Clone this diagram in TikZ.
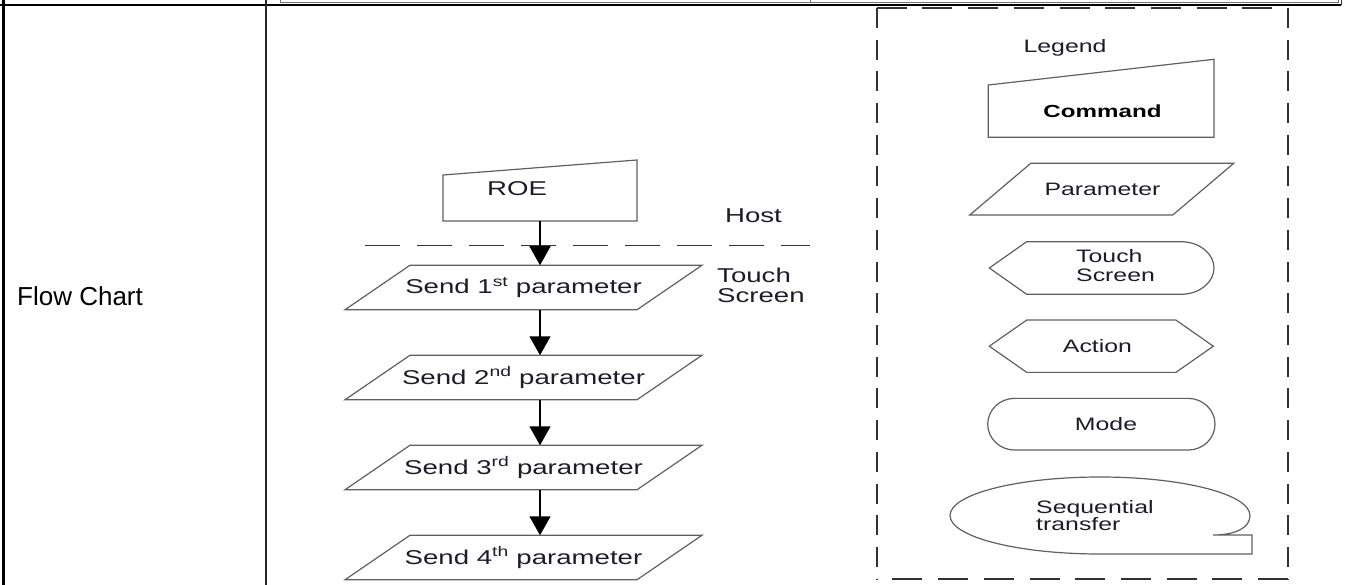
\documentclass[tikz,border=0pt]{standalone}
\usepackage{fontspec}
\setmainfont{Liberation Sans}
\newfontfamily\widefont[FakeStretch=1.38]{Liberation Sans}
\usetikzlibrary{arrows.meta,calc}
\definecolor{txtc}{RGB}{28,28,40}
\definecolor{shpc}{RGB}{95,95,95}
\definecolor{dashc}{RGB}{50,50,50}
\tikzset{
  shp/.style={draw=shpc, line width=1.2pt, line join=miter},
  txt/.style={font=\widefont\fontsize{20}{20}\selectfont, text=txtc, inner sep=0pt},
  ltxt/.style={font=\widefont\fontsize{18}{19}\selectfont, text=txtc, inner sep=0pt},
  holder/.style={inner sep=0pt, outer sep=0pt},
  arr/.style={line width=1.5pt, black, -{Triangle[width=21pt,length=19pt]}},
  hdash/.style={draw=dashc, line width=1.6pt, dash pattern=on 30pt off 15.7pt},
  vdash/.style={draw=dashc, line width=1.6pt, dash pattern=on 20pt off 11.7pt},
  sepdash/.style={draw=dashc, line width=1.4pt, dash pattern=on 35pt off 17pt},
}
\begin{document}
\begin{tikzpicture}[x=1pt,y=-1pt]
\useasboundingbox (0,0) rectangle (1351,585);
% table lines
\draw[line width=3.3pt] (3.3,0) -- (3.3,585);
\draw[line width=2pt] (0,4.8) -- (1341,4.8);
\draw[line width=1.8pt, black!85] (266.2,0) -- (266.2,585);
\draw[line width=0.8pt, black!55] (280,0) -- (280,2.7) -- (1338,2.7) -- (1338,0);
\draw[line width=0.8pt, black!55] (810,0) -- (810,2.7);
\draw[line width=0.8pt, black!80] (1341,0) -- (1341,5);
\node[anchor=base west, inner sep=0pt, font=\fontsize{26}{26}\selectfont] (fc) at (17,305) {Flow Chart};

% flow chart
\node[holder, minimum width=194pt, minimum height=61pt] (roe) at (540,190.5) {};
\draw[shp] (roe.south west) -- ([yshift=-15pt]roe.north west) -- (roe.north east) -- (roe.south east) -- cycle;
\node[txt] (roet) at (517,189) {ROE};

\node[txt, anchor=base] (host) at (753.5,223) {Host};
\node[txt, anchor=west, align=left, font=\widefont\fontsize{20}{20}\selectfont] (tsl) at (717,285.7) {Touch\\Screen};
\coordinate (hl) at (365,245.5);
\coordinate (hr) at (810,245.5);
\draw[sepdash] (hl) -- (hr);

\node[txt, holder, minimum width=292pt, minimum height=44.5pt] (p1) at (523.5,287.5) {Send 1\textsuperscript{st} parameter};
\node[txt, holder, minimum width=292pt, minimum height=44.5pt] (p2) at (523.5,377.5) {Send 2\textsuperscript{nd} parameter};
\node[txt, holder, minimum width=292pt, minimum height=44.5pt] (p3) at (523.5,467.5) {Send 3\textsuperscript{rd} parameter};
\node[txt, holder, minimum width=292pt, minimum height=44.5pt] (p4) at (523.5,557.5) {Send 4\textsuperscript{th} parameter};
\foreach \p in {p1,p2,p3,p4}{
  \draw[shp] ([xshift=32.5pt]\p.north west) -- ([xshift=32.5pt]\p.north east) -- ([xshift=-32.5pt]\p.south east) -- ([xshift=-32.5pt]\p.south west) -- cycle;
}
\draw[arr] (roe.south) -- (p1.north -| roe.south);
\draw[arr] (p1.south -| roe.south) -- (p2.north -| roe.south);
\draw[arr] (p2.south -| roe.south) -- (p3.north -| roe.south);
\draw[arr] (p3.south -| roe.south) -- (p4.north -| roe.south);

% legend box
\node[holder, minimum width=411.3pt, minimum height=571pt] (lb) at (1082.35,293.5) {};
\draw[hdash] (lb.north west) -- (lb.north east);
\draw[vdash] (lb.north west) -- (lb.south west);
\draw[vdash] (lb.north east) -- (lb.south east);
\draw[hdash] (lb.south east) -- (lb.south west);

\node[ltxt, anchor=base] (leg) at (1065,53) {Legend};

\node[holder, minimum width=225.7pt, minimum height=78pt] (cmd) at (1101.15,98.3) {};
\draw[shp] (cmd.south west) -- ([yshift=-25.7pt]cmd.north west) -- (cmd.north east) -- (cmd.south east) -- cycle;
\node[inner sep=0pt, font=\widefont\bfseries\fontsize{17.5}{18}\selectfont] (cmdt) at (1102.5,111) {Command};

\node[holder, minimum width=203pt, minimum height=51.7pt] (pl) at (1101.7,189.2) {};
\draw[shp] ([xshift=30.5pt]pl.north west) -- ([xshift=30.5pt]pl.north east) -- ([xshift=-30.5pt]pl.south east) -- ([xshift=-30.5pt]pl.south west) -- cycle;
\node[ltxt] (plt) at (1102.5,189) {Parameter};

\node[holder, minimum width=224.7pt, minimum height=52.6pt] (ts) at (1101.65,268) {};
\draw[shp] (ts.west) -- ([xshift=37.4pt]ts.north west) -- ([xshift=-33pt]ts.north east) arc (270:450:33 and 26.3) -- ([xshift=37.4pt]ts.south west) -- cycle;
\node[ltxt, anchor=west, align=left] (tst) at (1076,266) {Touch\\Screen};

\node[holder, minimum width=224pt, minimum height=52.3pt] (act) at (1101.3,346.2) {};
\draw[shp] (act.west) -- ([xshift=37.4pt]act.north west) -- ([xshift=-37.4pt]act.north east) -- (act.east) -- ([xshift=-37.4pt]act.south east) -- ([xshift=37.4pt]act.south west) -- cycle;
\node[ltxt] (actt) at (1097.5,346) {Action};

\node[holder, minimum width=227.3pt, minimum height=51.7pt] (mode) at (1101.35,424.2) {};
\draw[shp] ([xshift=27pt]mode.north west) -- ([xshift=-27pt]mode.north east) arc (270:450:27 and 25.85) -- ([xshift=27pt]mode.south west) arc (90:270:27 and 25.85) -- cycle;
\node[ltxt] (modet) at (1106,424) {Mode};

\coordinate (seqb) at (1100,554);
\draw[shp] (seqb) arc (90:360:150 and 38.5) .. controls (1250,528) and (1235,535) .. (1213,535) -- (1252,535) -- (1252,554) -- cycle;
\node[ltxt, anchor=west, align=left, font=\widefont\fontsize{18}{17}\selectfont] (seqt) at (1036,516) {Sequential\\transfer};
\end{tikzpicture}
\end{document}
